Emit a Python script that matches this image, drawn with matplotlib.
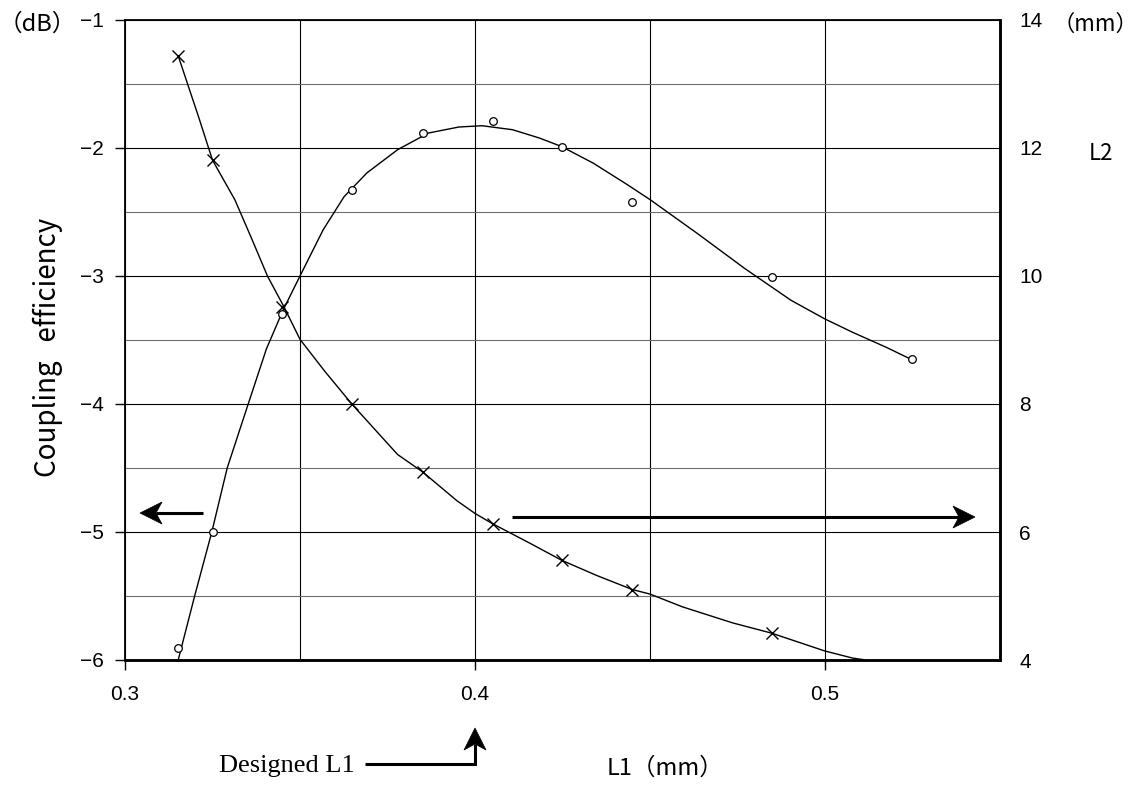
import numpy as np
import matplotlib
matplotlib.use('Agg')
import matplotlib.pyplot as plt
from matplotlib.ticker import FixedLocator
from matplotlib.patches import Polygon
from matplotlib.transforms import IdentityTransform

# ---------------- data ----------------
# measured points: coupling efficiency (left axis, dB)
l1_circle = [0.315, 0.325, 0.345, 0.365, 0.385, 0.405, 0.425, 0.445, 0.485, 0.525]
coupling_db = [-5.91, -5.00, -3.30, -2.33, -1.88, -1.79, -1.99, -2.42, -3.01, -3.65]

# measured points: L2 (right axis, mm)
l1_cross = [0.315, 0.325, 0.345, 0.365, 0.385, 0.405, 0.425, 0.445, 0.485]
l2_mm = [13.44, 11.81, 9.52, 8.00, 6.94, 6.13, 5.56, 5.10, 4.42]

# trend curve drawn through the coupling points
trend_c_x = [0.3152, 0.3199, 0.3248, 0.3292, 0.3352, 0.3404, 0.3451, 0.3500,
             0.3566, 0.3626, 0.3691, 0.3779, 0.3867, 0.3954, 0.4020, 0.4107,
             0.4184, 0.4246, 0.4337, 0.4435, 0.4500, 0.4639, 0.4770, 0.4903,
             0.5000, 0.5079, 0.5175, 0.5246]
trend_c_y = [-6.00, -5.50, -5.00, -4.50, -4.00, -3.57, -3.27, -3.00,
             -2.64, -2.38, -2.195, -2.013, -1.883, -1.836, -1.826, -1.857,
             -1.922, -1.987, -2.117, -2.286, -2.403, -2.675, -2.94, -3.19,
             -3.336, -3.44, -3.557, -3.651]

# trend curve drawn through the L2 points
trend_l_x = [0.3152, 0.3210, 0.3250, 0.3314, 0.3363, 0.3407, 0.3454, 0.3500,
             0.3571, 0.3648, 0.3779, 0.3850, 0.3948, 0.4000, 0.4050, 0.4162,
             0.4247, 0.4348, 0.4450, 0.4500, 0.4593, 0.4736, 0.4847, 0.5000,
             0.5079, 0.5117]
trend_l_y = [13.44, 12.49, 11.81, 11.19, 10.57, 10.00, 9.52, 9.01,
             8.51, 8.00, 7.21, 6.94, 6.49, 6.29, 6.13, 5.81,
             5.56, 5.32, 5.10, 5.03, 4.83, 4.58, 4.42, 4.14,
             4.03, 4.00]

x_major = [0.3, 0.4, 0.5]
x_labels = ['0.3', '0.4', '0.5']
x_grid = [0.35, 0.45, 0.55]
left_ticks = [-1, -2, -3, -4, -5, -6]
left_minor = [-1.5, -2.5, -3.5, -4.5, -5.5]
right_ticks = [4, 6, 8, 10, 12, 14]

CJK = ['Noto Sans CJK JP', 'DejaVu Sans']
NARROW = ['Liberation Sans Narrow', 'Liberation Sans', 'DejaVu Sans']

fig = plt.figure(figsize=(11.43, 7.87), dpi=100)
ax = fig.add_axes([125/1143, 1-660/787, 875/1143, 640/787])
ax2 = ax.twinx()

ax.set_xlim(0.3, 0.55)
ax.set_ylim(-6, -1)
ax2.set_ylim(4, 14)

# grid / ticks
ax.xaxis.set_major_locator(FixedLocator(x_major))
ax.xaxis.set_minor_locator(FixedLocator(x_grid))
ax.set_xticklabels(x_labels)
ax.yaxis.set_major_locator(FixedLocator(left_ticks))
ax.yaxis.set_minor_locator(FixedLocator(left_minor))
ax.grid(True, which='major', color='black', lw=0.8)
ax.grid(True, which='minor', axis='y', color='#6e6e6e', lw=0.8)
ax.grid(True, which='minor', axis='x', color='black', lw=0.8)
ax.tick_params(which='major', direction='out', length=7, width=1, color='black',
               labelsize=15, pad=8)
ax.tick_params(axis='x', which='major', pad=11)
ax.tick_params(which='minor', length=0)
for lab in ax.get_xticklabels() + ax.get_yticklabels():
    lab.set_family(NARROW)

ax2.yaxis.set_major_locator(FixedLocator(right_ticks))
ax2.tick_params(axis='y', length=0, labelsize=15, pad=14)
for lab in ax2.get_yticklabels():
    lab.set_family(NARROW)

for sp in ['left', 'top']:
    ax.spines[sp].set_linewidth(1.3)
for sp in ['bottom', 'right']:
    ax.spines[sp].set_linewidth(1.8)
    ax2.spines[sp].set_linewidth(1.8)
ax2.spines['left'].set_visible(False)
ax2.spines['top'].set_visible(False)

# curves and markers
ax.plot(trend_c_x, trend_c_y, color='black', lw=1.0, solid_joinstyle='round')
ax.plot(l1_circle, coupling_db, linestyle='none', marker='o', ms=5.5,
        mfc='white', mec='black', mew=0.9)
ax2.plot(trend_l_x, trend_l_y, color='black', lw=1.0, solid_joinstyle='round')
ax2.plot(l1_cross, l2_mm, linestyle='none', marker='x', ms=8,
         mec='black', mew=1.0)


# ------------- arrows (stealth-style heads, in pixel space) -------------
H = 787  # figure height in pixels


def px(x, y):
    """pixel coordinates (origin top-left) -> display coords"""
    return np.array([x, H - y], dtype=float)


def arrow(points, L=22, W=22, notch=6, lw=2.2):
    pts = [px(*p) for p in points]
    tip = pts[-1]
    d = tip - pts[-2]
    d = d / np.hypot(*d)
    n = np.array([-d[1], d[0]])
    back = tip - (L - notch) * d
    shaft = pts[:-1] + [back + 0.5 * d]
    xs = [p[0] for p in shaft]
    ys = [p[1] for p in shaft]
    line = plt.Line2D(xs, ys, transform=IdentityTransform(), color='black',
                      lw=lw, solid_capstyle='butt', solid_joinstyle='miter')
    fig.add_artist(line)
    head = Polygon([tip, tip - L * d + W / 2 * n, back, tip - L * d - W / 2 * n],
                   closed=True, transform=IdentityTransform(),
                   facecolor='black', edgecolor='black', lw=0.5)
    fig.add_artist(head)


arrow([(203, 513), (140, 513)])
arrow([(512, 517), (975, 517)])
arrow([(365, 764), (475, 764), (475, 728)])

ax.text(0.3657, -0.166, 'Designed L1', transform=ax.get_xaxis_transform(),
        ha='right', va='center', fontsize=19,
        family=['Liberation Serif', 'DejaVu Serif'])

# labels
fig.text(665/1143, 1-768/787, 'L1（mm）', ha='center', va='center',
         fontsize=17, family=CJK)
fig.text(48/1143, 1-347/787, 'Coupling   efficiency', rotation=90,
         ha='center', va='center', fontsize=20, family=CJK)
fig.text(37/1143, 1-24/787, '（dB）', ha='center', va='center',
         fontsize=17, family=CJK)
fig.text(1095/1143, 1-24/787, '（mm）', ha='center', va='center',
         fontsize=16, family=CJK)
fig.text(1101/1143, 1-154/787, 'L2', ha='center', va='center',
         fontsize=16, family=CJK)

fig.savefig('out.png', dpi=100)
